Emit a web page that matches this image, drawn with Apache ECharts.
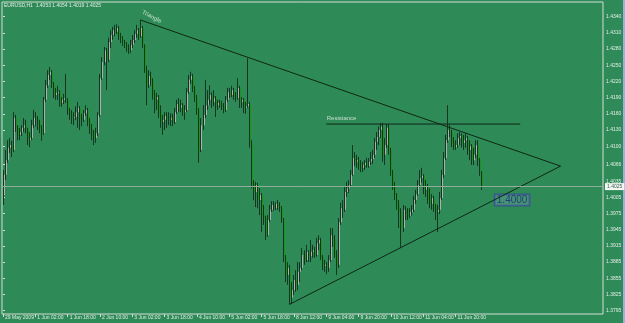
<!DOCTYPE html>
<html>
<head>
<meta charset="utf-8">
<title>EURUSD,H1</title>
<script src="https://cdn.jsdelivr.net/npm/echarts@6/dist/echarts.min.js"></script>
<style>
html, body { margin: 0; padding: 0; background: #2e8b57; }
#chart { width: 625px; height: 323px; }
</style>
</head>
<body>
<div id="chart"></div>
<script>
"use strict";
var symbolName = "EURUSD,H1";

// hourly bars
var opens = [1.4009,1.4047,1.4074,1.4097,1.4102,1.4093,1.4152,1.4134,1.4121,1.4126,
1.4134,1.4139,1.4130,1.4111,1.4115,1.4139,1.4152,1.4149,1.4143,1.4134,
1.4124,1.4186,1.4213,1.4232,1.4238,1.4215,1.4195,1.4199,1.4200,1.4180,
1.4186,1.4189,1.4186,1.4163,1.4158,1.4152,1.4154,1.4163,1.4171,1.4152,
1.4149,1.4161,1.4167,1.4145,1.4134,1.4121,1.4115,1.4124,1.4158,1.4226,
1.4256,1.4278,1.4260,1.4293,1.4306,1.4315,1.4312,1.4319,1.4304,1.4301,
1.4293,1.4289,1.4284,1.4278,1.4288,1.4297,1.4308,1.4315,1.4304,1.4319,
1.4288,1.4241,1.4213,1.4230,1.4223,1.4195,1.4186,1.4191,1.4163,1.4145,
1.4149,1.4156,1.4152,1.4149,1.4152,1.4145,1.4163,1.4178,1.4171,1.4176,
1.4163,1.4167,1.4200,1.4223,1.4230,1.4208,1.4189,1.4167,1.4093,1.4139,
1.4158,1.4176,1.4186,1.4195,1.4182,1.4189,1.4176,1.4180,1.4178,1.4173,
1.4167,1.4186,1.4200,1.4195,1.4204,1.4193,1.4189,1.4208,1.4182,1.4186,
1.4171,1.4174,1.4178,1.4102,1.4028,1.4015,1.4028,1.4000,1.4009,1.3972,
1.3967,1.3935,1.3963,1.3982,1.3991,1.3985,1.3993,1.3989,1.3985,1.3963,
1.3893,1.3861,1.3874,1.3819,1.3833,1.3852,1.3843,1.3867,1.3874,1.3898,
1.3889,1.3904,1.3896,1.3904,1.3907,1.3898,1.3920,1.3926,1.3893,1.3878,
1.3880,1.3874,1.3889,1.3935,1.3926,1.3898,1.3880,1.3959,1.3985,1.3982,
1.4015,1.4022,1.4028,1.4047,1.4078,1.4071,1.4074,1.4063,1.4060,1.4065,
1.4069,1.4063,1.4071,1.4076,1.4084,1.4108,1.4117,1.4130,1.4136,1.4084,
1.4102,1.4134,1.4093,1.4052,1.4026,1.4009,1.3991,1.3978,1.3948,1.3982,
1.3974,1.3971,1.3978,1.3982,1.4000,1.4011,1.4028,1.4041,1.4045,1.4019,
1.4026,1.4000,1.3993,1.4004,1.3985,1.3978,1.3982,1.4004,1.4047,1.4078,
1.4111,1.4130,1.4126,1.4106,1.4098,1.4102,1.4115,1.4119,1.4106,1.4111,
1.4115,1.4093,1.4100,1.4074,1.4084,1.4102,1.4074,1.4053];

var highs = [1.4056,1.4093,1.4111,1.4115,1.4110,1.4163,1.4158,1.4139,1.4134,1.4139,
1.4152,1.4149,1.4134,1.4126,1.4149,1.4167,1.4163,1.4156,1.4149,1.4139,
1.4191,1.4223,1.4241,1.4247,1.4241,1.4219,1.4208,1.4212,1.4204,1.4191,
1.4197,1.4234,1.4189,1.4171,1.4167,1.4163,1.4174,1.4182,1.4174,1.4160,
1.4167,1.4176,1.4171,1.4152,1.4141,1.4130,1.4134,1.4163,1.4234,1.4265,
1.4284,1.4282,1.4301,1.4315,1.4321,1.4325,1.4326,1.4323,1.4310,1.4304,
1.4297,1.4293,1.4289,1.4297,1.4306,1.4315,1.4325,1.4319,1.4334,1.4323,
1.4289,1.4249,1.4241,1.4238,1.4226,1.4204,1.4199,1.4195,1.4176,1.4158,
1.4163,1.4163,1.4163,1.4161,1.4160,1.4171,1.4186,1.4189,1.4186,1.4180,
1.4176,1.4208,1.4232,1.4238,1.4234,1.4212,1.4195,1.4171,1.4152,1.4176,
1.4223,1.4204,1.4213,1.4200,1.4204,1.4193,1.4186,1.4186,1.4184,1.4180,
1.4193,1.4208,1.4208,1.4212,1.4208,1.4200,1.4226,1.4212,1.4191,1.4189,
1.4182,1.4263,1.4182,1.4111,1.4037,1.4034,1.4032,1.4022,1.4013,1.3991,
1.3971,1.3972,1.3991,1.3998,1.3998,1.3996,1.4000,1.3996,1.3989,1.3967,
1.3898,1.3885,1.3880,1.3848,1.3861,1.3870,1.3885,1.3885,1.3911,1.3907,
1.3917,1.3907,1.3926,1.3917,1.3913,1.3930,1.3935,1.3930,1.3898,1.3889,
1.3885,1.3898,1.3948,1.3948,1.3935,1.3907,1.3967,1.3995,1.4000,1.4026,
1.4034,1.4037,1.4056,1.4102,1.4089,1.4084,1.4080,1.4074,1.4071,1.4074,
1.4078,1.4078,1.4089,1.4093,1.4115,1.4126,1.4137,1.4143,1.4143,1.4115,
1.4141,1.4141,1.4097,1.4056,1.4034,1.4013,1.4000,1.3985,1.3991,1.3989,
1.3985,1.3985,1.3991,1.4008,1.4019,1.4037,1.4056,1.4060,1.4048,1.4037,
1.4030,1.4022,1.4011,1.4008,1.3993,1.3991,1.4015,1.4056,1.4089,1.4121,
1.4176,1.4139,1.4130,1.4117,1.4111,1.4124,1.4126,1.4124,1.4121,1.4124,
1.4119,1.4111,1.4104,1.4097,1.4111,1.4111,1.4078,1.4054];

var lows = [1.3991,1.4037,1.4069,1.4087,1.4080,1.4089,1.4126,1.4111,1.4111,1.4119,
1.4126,1.4124,1.4102,1.4098,1.4111,1.4134,1.4137,1.4130,1.4124,1.4110,
1.4121,1.4182,1.4208,1.4223,1.4208,1.4189,1.4186,1.4186,1.4173,1.4173,
1.4178,1.4180,1.4158,1.4149,1.4141,1.4139,1.4149,1.4134,1.4130,1.4137,
1.4145,1.4156,1.4137,1.4123,1.4111,1.4102,1.4106,1.4119,1.4154,1.4223,
1.4250,1.4204,1.4256,1.4282,1.4297,1.4304,1.4308,1.4297,1.4291,1.4286,
1.4282,1.4275,1.4271,1.4273,1.4282,1.4291,1.4301,1.4297,1.4301,1.4282,
1.4236,1.4176,1.4208,1.4212,1.4186,1.4161,1.4167,1.4152,1.4134,1.4121,
1.4130,1.4134,1.4139,1.4137,1.4137,1.4141,1.4160,1.4163,1.4163,1.4156,
1.4149,1.4163,1.4197,1.4215,1.4200,1.4182,1.4158,1.4069,1.4089,1.4130,
1.4152,1.4167,1.4176,1.4171,1.4174,1.4154,1.4167,1.4171,1.4167,1.4161,
1.4163,1.4182,1.4189,1.4191,1.4186,1.4182,1.4186,1.4171,1.4171,1.4161,
1.4160,1.4171,1.4097,1.4022,1.4000,1.3987,1.3985,1.3972,1.3941,1.3954,
1.3926,1.3932,1.3959,1.3978,1.3980,1.3982,1.3982,1.3978,1.3958,1.3885,
1.3848,1.3843,1.3806,1.3807,1.3824,1.3830,1.3833,1.3848,1.3870,1.3880,
1.3885,1.3885,1.3885,1.3893,1.3893,1.3895,1.3907,1.3889,1.3870,1.3867,
1.3863,1.3867,1.3885,1.3913,1.3893,1.3861,1.3874,1.3954,1.3967,1.3978,
1.4006,1.4013,1.4024,1.4045,1.4063,1.4060,1.4056,1.4052,1.4052,1.4056,
1.4060,1.4060,1.4065,1.4067,1.4078,1.4093,1.4102,1.4115,1.4071,1.4065,
1.4097,1.4084,1.4045,1.4019,1.4000,1.3982,1.3948,1.3913,1.3941,1.3963,
1.3963,1.3967,1.3971,1.3978,1.3993,1.4008,1.4024,1.4032,1.4011,1.4006,
1.3993,1.3985,1.3982,1.3978,1.3963,1.3941,1.3974,1.4000,1.4041,1.4074,
1.4106,1.4117,1.4098,1.4093,1.4093,1.4097,1.4102,1.4098,1.4093,1.4097,
1.4084,1.4074,1.4065,1.4065,1.4078,1.4063,1.4045,1.4019];

var closes = [1.4047,1.4074,1.4097,1.4102,1.4093,1.4152,1.4134,1.4121,1.4126,1.4134,
1.4139,1.4130,1.4111,1.4115,1.4139,1.4152,1.4149,1.4143,1.4134,1.4124,
1.4186,1.4213,1.4232,1.4238,1.4215,1.4195,1.4199,1.4200,1.4180,1.4186,
1.4189,1.4186,1.4163,1.4158,1.4152,1.4154,1.4163,1.4171,1.4152,1.4149,
1.4161,1.4167,1.4145,1.4134,1.4121,1.4115,1.4124,1.4158,1.4226,1.4256,
1.4278,1.4260,1.4293,1.4306,1.4315,1.4312,1.4319,1.4304,1.4301,1.4293,
1.4289,1.4284,1.4278,1.4288,1.4297,1.4308,1.4315,1.4304,1.4319,1.4288,
1.4241,1.4213,1.4230,1.4223,1.4195,1.4186,1.4191,1.4163,1.4145,1.4149,
1.4156,1.4152,1.4149,1.4152,1.4145,1.4163,1.4178,1.4171,1.4176,1.4163,
1.4167,1.4200,1.4223,1.4230,1.4208,1.4189,1.4167,1.4093,1.4139,1.4158,
1.4176,1.4186,1.4195,1.4182,1.4189,1.4176,1.4180,1.4178,1.4173,1.4167,
1.4186,1.4200,1.4195,1.4204,1.4193,1.4189,1.4208,1.4182,1.4186,1.4171,
1.4174,1.4178,1.4102,1.4028,1.4015,1.4028,1.4000,1.4009,1.3972,1.3967,
1.3935,1.3963,1.3982,1.3991,1.3985,1.3993,1.3989,1.3985,1.3963,1.3893,
1.3861,1.3874,1.3819,1.3833,1.3852,1.3843,1.3867,1.3874,1.3898,1.3889,
1.3904,1.3896,1.3904,1.3907,1.3898,1.3920,1.3926,1.3893,1.3878,1.3880,
1.3874,1.3889,1.3935,1.3926,1.3898,1.3880,1.3959,1.3985,1.3982,1.4015,
1.4022,1.4028,1.4047,1.4078,1.4071,1.4074,1.4063,1.4060,1.4065,1.4069,
1.4063,1.4071,1.4076,1.4084,1.4108,1.4117,1.4130,1.4136,1.4084,1.4102,
1.4134,1.4093,1.4052,1.4026,1.4009,1.3991,1.3978,1.3948,1.3982,1.3974,
1.3971,1.3978,1.3982,1.4000,1.4011,1.4028,1.4041,1.4045,1.4019,1.4026,
1.4000,1.3993,1.4004,1.3985,1.3978,1.3982,1.4004,1.4047,1.4078,1.4111,
1.4130,1.4126,1.4106,1.4098,1.4102,1.4115,1.4119,1.4106,1.4111,1.4115,
1.4093,1.4100,1.4074,1.4084,1.4102,1.4074,1.4054,1.4025];

// axis labels
var timeLabels = ["29 May 2009", "1 Jun 02:00", "1 Jun 18:00", "2 Jun 10:00", "3 Jun 02:00",
  "3 Jun 18:00", "4 Jun 10:00", "5 Jun 02:00", "5 Jun 18:00", "8 Jun 12:00",
  "9 Jun 04:00", "9 Jun 20:00", "10 Jun 12:00", "11 Jun 04:00", "11 Jun 20:00"];
var timeLabelBars = [0, 16, 32, 48, 64, 80, 96, 112, 128, 144, 160, 176, 192, 208, 224];
var priceLabels = [1.4340, 1.4310, 1.4280, 1.4250, 1.4220, 1.4190, 1.4160, 1.4130, 1.4100,
  1.4066, 1.4035, 1.4005, 1.3975, 1.3945, 1.3915, 1.3885, 1.3855, 1.3825, 1.3795];

// drawn objects (bar index / price)
var triangleBars = [68, 276, 142];
var trianglePrices = [1.4334, 1.4063, 1.3807];
var resistanceBars = [160, 256];
var resistancePrices = [1.4141, 1.4141];
var noteTexts = ["Triangle", "Resistance"];
var noteBars = [73.6, 167.6];
var notePrices = [1.4340, 1.4151];
var noteRotate = [-28, 0];
var tagBars = [252];
var tagPrices = [1.4000];

var bullColor = "#b0b0b0";
var bearColor = "#169a16";
var wickColor = "#143620";
var frameColor = "#d4dcd6";
var textColor = "#e4ece6";

var last = closes.length - 1;
var bars = [];
for (var i = 0; i < closes.length; i++) {
  bars.push([i, opens[i], closes[i], lows[i], highs[i]]);
}
var triangle = triangleBars.map(function (b, k) { return [b, trianglePrices[k]]; });
var resistance = resistanceBars.map(function (b, k) { return [b, resistancePrices[k]]; });
var notes = noteTexts.map(function (t, k) {
  return {
    value: [noteBars[k], notePrices[k]],
    label: { formatter: t, rotate: noteRotate[k] }
  };
});
var tags = tagBars.map(function (b, k) { return [b, tagPrices[k]]; });

var chart = echarts.init(document.getElementById("chart"), null, { renderer: "canvas" });

chart.setOption({
  backgroundColor: "#2e8b57",
  animation: false,
  textStyle: { fontFamily: "Liberation Sans" },
  title: {
    text: symbolName + "  " + [opens[last], highs[last], lows[last], closes[last]].map(function (v) {
      return v.toFixed(4);
    }).join(" "),
    left: 4,
    top: 3,
    padding: 0,
    textStyle: { fontSize: 5, fontWeight: "normal", color: textColor, fontFamily: "Liberation Sans" }
  },
  grid: {
    left: 2, right: 22, top: 2, bottom: 9,
    show: true,
    borderColor: frameColor,
    borderWidth: 1,
    outerBoundsMode: "none"
  },
  xAxis: {
    type: "value",
    min: -0.5,
    max: 297,
    axisLine: { show: false },
    splitLine: { show: false },
    axisTick: {
      show: true, length: 3, customValues: timeLabelBars,
      lineStyle: { color: frameColor }
    },
    axisLabel: {
      customValues: timeLabelBars,
      formatter: function (v) { return timeLabels[timeLabelBars.indexOf(Math.round(v))] || ""; },
      align: "left",
      padding: [0, 0, 0, 2],
      margin: 1,
      fontSize: 5,
      color: textColor,
      hideOverlap: false
    }
  },
  yAxis: {
    type: "value",
    position: "right",
    min: 1.37888,
    max: 1.43673,
    axisLine: { show: false },
    splitLine: { show: false },
    axisTick: {
      show: true, length: 2, customValues: priceLabels,
      lineStyle: { color: frameColor }
    },
    axisLabel: {
      customValues: priceLabels,
      formatter: function (v) { return v.toFixed(4); },
      margin: 3,
      fontSize: 5,
      color: textColor,
      hideOverlap: false
    }
  },
  series: [
    {
      name: "bid",
      type: "line",
      data: [],
      silent: true,
      markLine: {
        symbol: "none",
        silent: true,
        animation: false,
        precision: 4,
        lineStyle: { color: "#93ad9d", width: 1, type: "solid" },
        label: {
          position: "end",
          distance: 2,
          formatter: closes[last].toFixed(4),
          fontSize: 5,
          color: "#3c5a48",
          backgroundColor: "#f4f6f4",
          padding: [1, 2]
        },
        data: [{ yAxis: closes[last] }]
      }
    },
    {
      name: "EURUSD",
      type: "custom",
      data: bars,
      encode: { x: 0, y: [1, 2, 3, 4] },
      clip: true,
      renderItem: function (params, api) {
        var x = api.value(0);
        var o = api.value(1), c = api.value(2), l = api.value(3), h = api.value(4);
        var pO = api.coord([x, o]);
        var pC = api.coord([x, c]);
        var pL = api.coord([x, l]);
        var pH = api.coord([x, h]);
        var col = Math.floor(pO[0]);
        var top = Math.min(pO[1], pC[1]);
        var bot = Math.max(pO[1], pC[1]);
        return {
          type: "group",
          children: [
            {
              type: "line",
              shape: { x1: col + 0.5, y1: pH[1], x2: col + 0.5, y2: pL[1] },
              style: { stroke: wickColor, lineWidth: 1 }
            },
            {
              type: "rect",
              shape: { x: col + 1, y: top, width: 1, height: Math.max(bot - top, 1) },
              style: { fill: c >= o ? bullColor : bearColor }
            }
          ]
        };
      }
    },
    {
      name: "Triangle",
      type: "line",
      data: triangle,
      symbol: "none",
      silent: true,
      lineStyle: { color: "#0e2616", width: 1 }
    },
    {
      name: "Resistance",
      type: "line",
      data: resistance,
      symbol: "none",
      silent: true,
      lineStyle: { color: "#0e2616", width: 1 }
    },
    {
      name: "notes",
      type: "scatter",
      data: notes,
      symbolSize: 0,
      silent: true,
      label: {
        show: true,
        position: "inside",
        fontSize: 6,
        color: "#e8f0ea"
      }
    },
    {
      name: "tag",
      type: "scatter",
      data: tags,
      symbolSize: 0,
      silent: true,
      label: {
        show: true,
        position: "inside",
        formatter: function (p) { return p.value[1].toFixed(4); },
        fontSize: 10,
        color: "#1c2a7a",
        borderColor: "#33478f",
        borderWidth: 1,
        backgroundColor: "rgba(130,170,190,0.35)",
        padding: [1, 2, 0, 2]
      }
    }
  ],
  graphic: [
    { type: "rect", left: 623, top: 0, shape: { width: 2, height: 323 }, style: { fill: "#9fb0e0" }, silent: true }
  ]
});
</script>
</body>
</html>
